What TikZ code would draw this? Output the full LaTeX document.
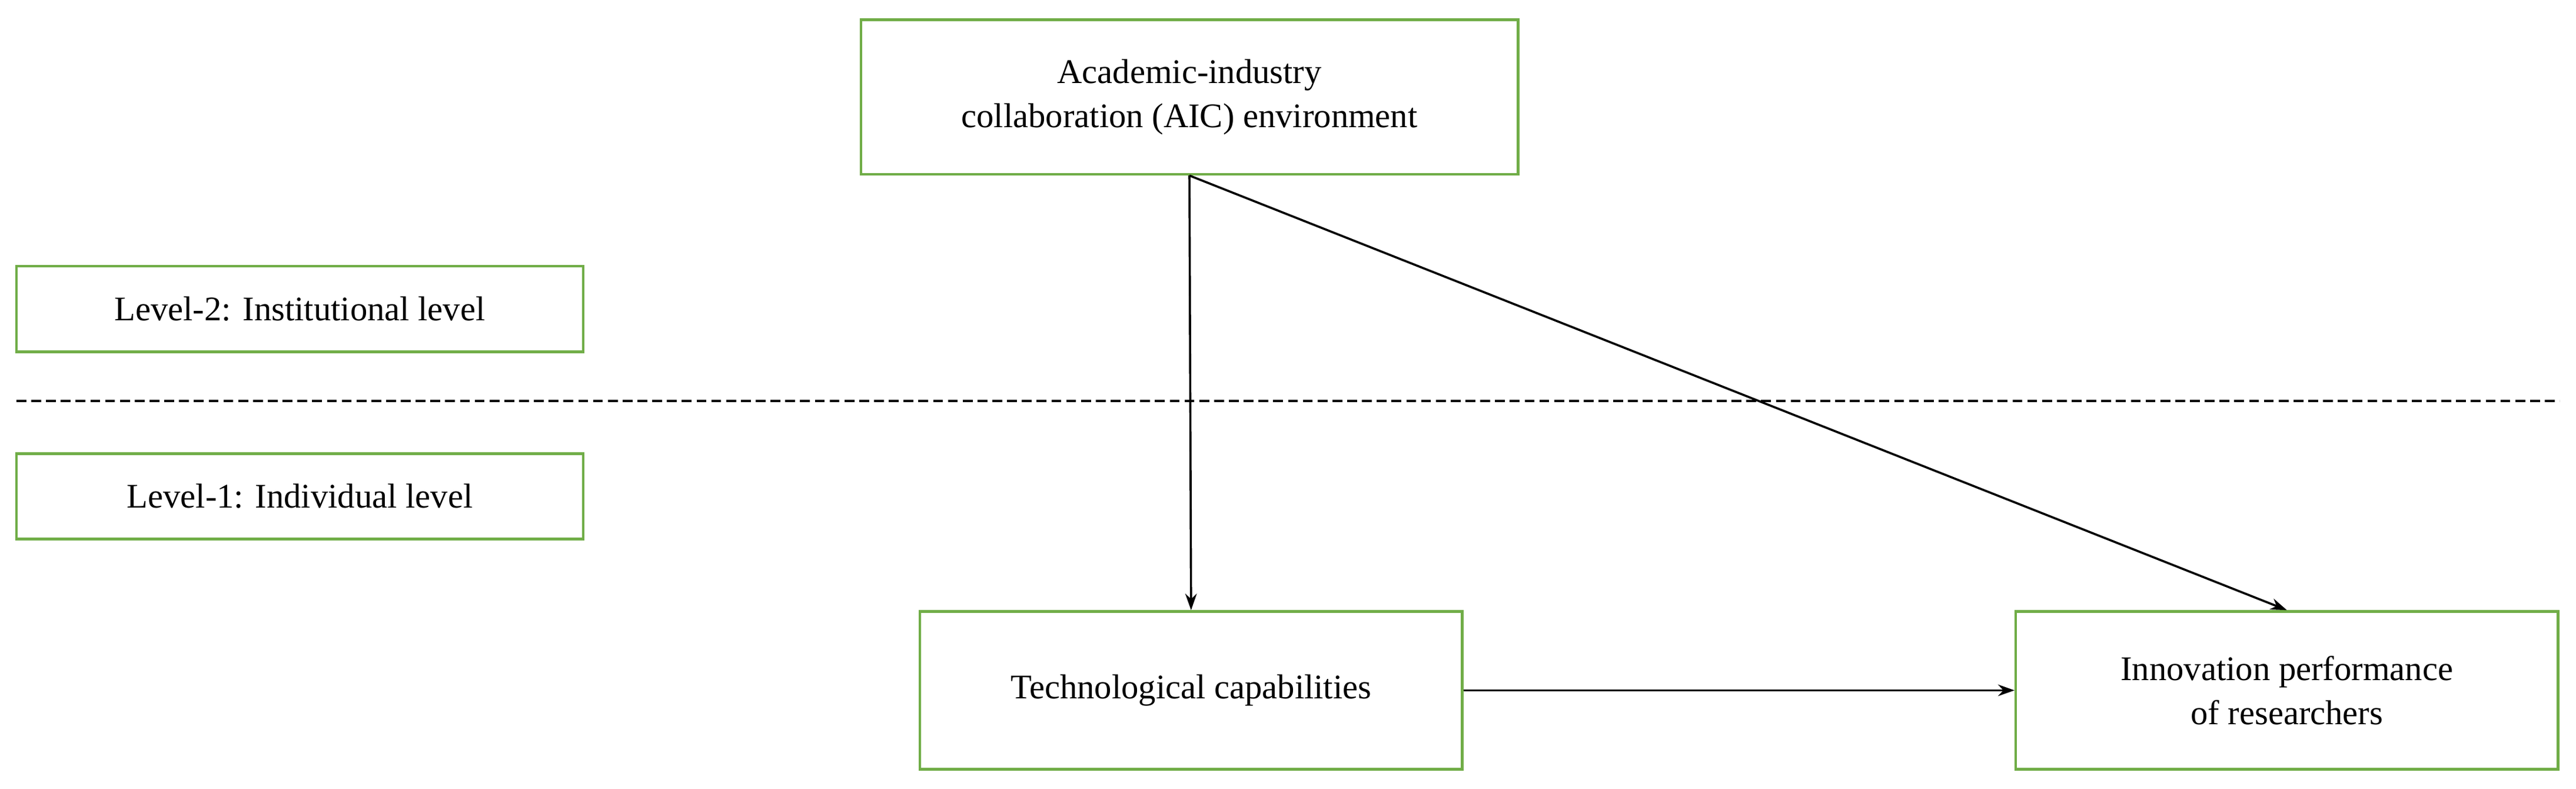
\documentclass[tikz,border=0pt]{standalone}
\usepackage{fontspec}
\setmainfont{Liberation Serif}
\usetikzlibrary{arrows.meta}
\definecolor{gb}{RGB}{112,173,71}
\begin{document}
\begin{tikzpicture}[x=1pt,y=-1pt,
  bx/.style={draw=gb,line width=1.6pt,align=center,font=\fontsize{21}{27}\selectfont,inner sep=0pt},
  ar/.style={-{Stealth[length=10pt,width=7pt]},line width=1.3pt}]
\useasboundingbox[fill=white] (0,0) rectangle (1568,480);
\node[bx,minimum width=400pt,minimum height=94pt] (top) at (724,59) {Academic-industry\\collaboration (AIC) environment};
\node[bx,minimum width=345pt,minimum height=52pt] (l2) at (182.5,188) {Level-2: Institutional level};
\node[bx,minimum width=345pt,minimum height=52pt] (l1) at (182.5,302) {Level-1: Individual level};
\node[bx,minimum width=330pt,minimum height=96pt] (tc) at (725,420) {Technological capabilities};
\node[bx,minimum width=330pt,minimum height=96pt] (ip) at (1392,420) {Innovation performance\\of researchers};
\coordinate (d1) at (10,244); \coordinate (d2) at (1558,244);
\draw[dashed,line width=1.2pt,dash pattern=on 6pt off 3pt] (d1) -- (d2);
\draw[ar] (top.south) -- (tc.north);
\draw[ar] (top.south) -- (ip.north);
\draw[ar] (tc.east) -- (ip.west);
\end{tikzpicture}
\end{document}
